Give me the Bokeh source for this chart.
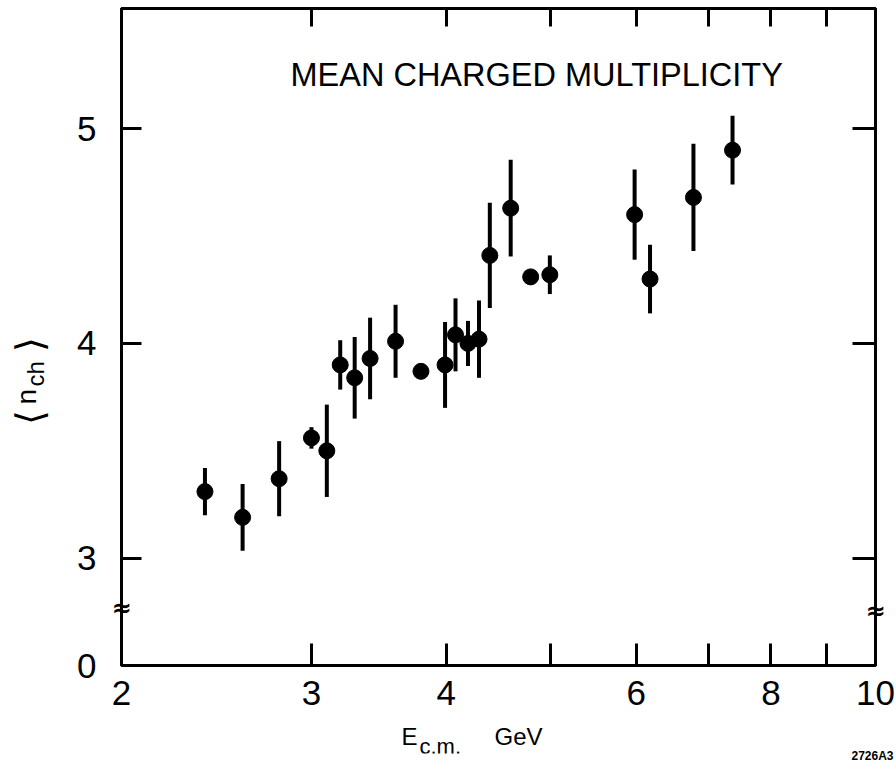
import math
from bokeh.plotting import figure
from bokeh.layouts import row, column
from bokeh.models import (ColumnDataSource, FixedTicker, LogAxis, LinearAxis, Label, Range1d)
from bokeh.embed import file_html
from bokeh.resources import INLINE

# ---- data ----
energy = [2.39, 2.59, 2.80, 3.00, 3.10, 3.19, 3.29, 3.40, 3.59, 3.79, 3.99,
          4.08, 4.19, 4.29, 4.39, 4.59, 4.79, 4.99, 5.98, 6.18, 6.78, 7.37]
n_ch = [3.31, 3.19, 3.37, 3.56, 3.50, 3.90, 3.84, 3.93, 4.01, 3.87, 3.90,
        4.04, 4.00, 4.02, 4.41, 4.63, 4.31, 4.32, 4.60, 4.30, 4.68, 4.90]
err = [0.11, 0.155, 0.175, 0.05, 0.215, 0.115, 0.19, 0.19, 0.17, 0.03, 0.20,
       0.17, 0.105, 0.18, 0.245, 0.225, 0.02, 0.09, 0.21, 0.16, 0.25, 0.16]

x_ticks = [2, 3, 4, 5, 6, 7, 8, 9, 10]
x_tick_labels = {2: "2", 3: "3", 4: "4", 5: "", 6: "6", 7: "", 8: "8", 9: "", 10: "10"}
y_ticks = [2.5, 3, 4, 5]
y_tick_labels = {2.5: "0", 3: "3", 4: "4", 5: "5"}
x_range = (2, 10)
y_range = (2.5, 5.56)

title_text = "MEAN CHARGED MULTIPLICITY"
figure_code = "2726A3"

FONT = "Liberation Sans"
W, H = 896, 767
LEFT_W = 51          # strip holding the y-axis title
MAIN_H = 722         # main plot height; strip below holds the x-axis title
FRAME_L, FRAME_R, FRAME_T, FRAME_B = 121, 875, 8, 665

def bl(fs):
    # offset Bokeh applies between requested and drawn alphabetic baseline
    return 0.4 * fs

src = ColumnDataSource(dict(
    x=energy, y=n_ch,
    lo=[v - e for v, e in zip(n_ch, err)],
    hi=[v + e for v, e in zip(n_ch, err)],
))

# ---------------- main plot ----------------
p = figure(width=W - LEFT_W, height=MAIN_H, x_axis_type="log", x_range=x_range, y_range=y_range,
           output_backend="svg", toolbar_location=None,
           min_border_left=FRAME_L - LEFT_W, min_border_right=W - FRAME_R,
           min_border_top=FRAME_T, min_border_bottom=MAIN_H - FRAME_B,
           background_fill_color="white", border_fill_color="white")
p.grid.visible = False
p.outline_line_color = "black"
p.outline_line_width = 3

def style_axis(ax, tick_in, labels=True):
    ax.axis_line_color = "black"
    ax.axis_line_width = 3
    ax.major_tick_line_color = "black"
    ax.major_tick_line_width = 3
    ax.major_tick_in = tick_in
    ax.major_tick_out = 0
    ax.minor_tick_line_color = None
    ax.major_label_text_font = FONT
    ax.major_label_text_color = "black"
    if labels:
        ax.major_label_text_font_size = "35px"
    else:
        ax.major_label_text_font_size = "0px"
        ax.major_label_standoff = 0

xb = p.xaxis[0]
xb.ticker = FixedTicker(ticks=x_ticks)
xb.major_label_overrides = x_tick_labels
style_axis(xb, 22)
xb.major_label_standoff = 15

yl = p.yaxis[0]
yl.ticker = FixedTicker(ticks=y_ticks)
yl.major_label_overrides = y_tick_labels
style_axis(yl, 20)
yl.major_label_standoff = 25

xt = LogAxis(ticker=FixedTicker(ticks=x_ticks[1:-1]),
             major_label_overrides={t: "" for t in x_ticks})
style_axis(xt, 18, labels=False)
p.add_layout(xt, "above")

yr = LinearAxis(ticker=FixedTicker(ticks=y_ticks[1:]),
                major_label_overrides={t: "" for t in y_ticks})
style_axis(yr, 23, labels=False)
p.add_layout(yr, "right")

p.segment(x0="x", y0="lo", x1="x", y1="hi", source=src, line_color="black", line_width=4)
p.scatter(x="x", y="y", source=src, size=16, fill_color="black", line_color="black")

# axis-break marks (side panels, so they are not clipped by the frame)
p.add_layout(Label(x=FRAME_L - LEFT_W, y=607, x_units="canvas", y_units="canvas", text="≈",
                   text_align="center", text_baseline="middle", text_font="DejaVu Sans",
                   text_font_size="24px", text_font_style="bold", text_color="black"), "left")
p.add_layout(Label(x=FRAME_R - LEFT_W, y=610, x_units="canvas", y_units="canvas", text="≈",
                   text_align="center", text_baseline="middle", text_font="DejaVu Sans",
                   text_font_size="24px", text_font_style="bold", text_color="black"), "right")

p.add_layout(Label(x=290 - LEFT_W, y=87 - bl(32.5), x_units="canvas", y_units="canvas",
                   text=title_text, text_font=FONT, text_font_size="32.5px", text_color="black",
                   text_align="left", text_baseline="alphabetic"))

# ---------------- strip for y-axis title ----------------
pl = figure(width=LEFT_W, height=H, x_range=Range1d(0, LEFT_W), y_range=Range1d(H, 0),
            output_backend="svg", toolbar_location=None, min_border=0,
            x_axis_location=None, y_axis_location=None, outline_line_color=None,
            background_fill_color="white", border_fill_color="white")
pl.grid.visible = False
pl.add_layout(Label(x=29, y=417, x_units="canvas", y_units="canvas", text="⟨",
                    angle=math.pi / 2, text_font="DejaVu Sans", text_font_size="38px",
                    text_color="black", text_align="center", text_baseline="middle"))
pl.add_layout(Label(x=37 - bl(28), y=404, x_units="canvas", y_units="canvas", text="n",
                    angle=math.pi / 2, text_font=FONT, text_font_size="28px",
                    text_color="black", text_align="left", text_baseline="alphabetic"))
pl.add_layout(Label(x=45 - bl(24), y=386, x_units="canvas", y_units="canvas", text="ch",
                    angle=math.pi / 2, text_font=FONT, text_font_size="24px",
                    text_color="black", text_align="left", text_baseline="alphabetic"))
pl.add_layout(Label(x=29, y=344, x_units="canvas", y_units="canvas", text="⟩",
                    angle=math.pi / 2, text_font="DejaVu Sans", text_font_size="38px",
                    text_color="black", text_align="center", text_baseline="middle"))

# ---------------- strip for x-axis title ----------------
pb = figure(width=W - LEFT_W, height=H - MAIN_H, x_range=Range1d(0, 1), y_range=Range1d(0, 1),
            output_backend="svg", toolbar_location=None,
            min_border=0, x_axis_location=None, y_axis_location=None, outline_line_color=None,
            background_fill_color="white", border_fill_color="white")
pb.grid.visible = False
def pb_label(text, px, py, fs, **kw):
    return Label(x=px - LEFT_W, y=py - bl(fs) - MAIN_H, x_units="canvas", y_units="canvas",
                 text=text, text_font=FONT, text_font_size=f"{fs}px", text_color="black",
                 text_align=kw.pop("text_align", "left"), text_baseline="alphabetic", **kw)
pb.add_layout(pb_label("E", 401, 746, 24))
pb.add_layout(pb_label("c.m.", 419, 755, 22))
pb.add_layout(pb_label("GeV", 494, 746, 24))
pb.add_layout(pb_label(figure_code, 893, 760, 12, text_align="right", text_font_style="bold"),
              "below")

layout = row(pl, column(p, pb, spacing=0), spacing=0)

open("out.html", "w").write(file_html(layout, INLINE))
